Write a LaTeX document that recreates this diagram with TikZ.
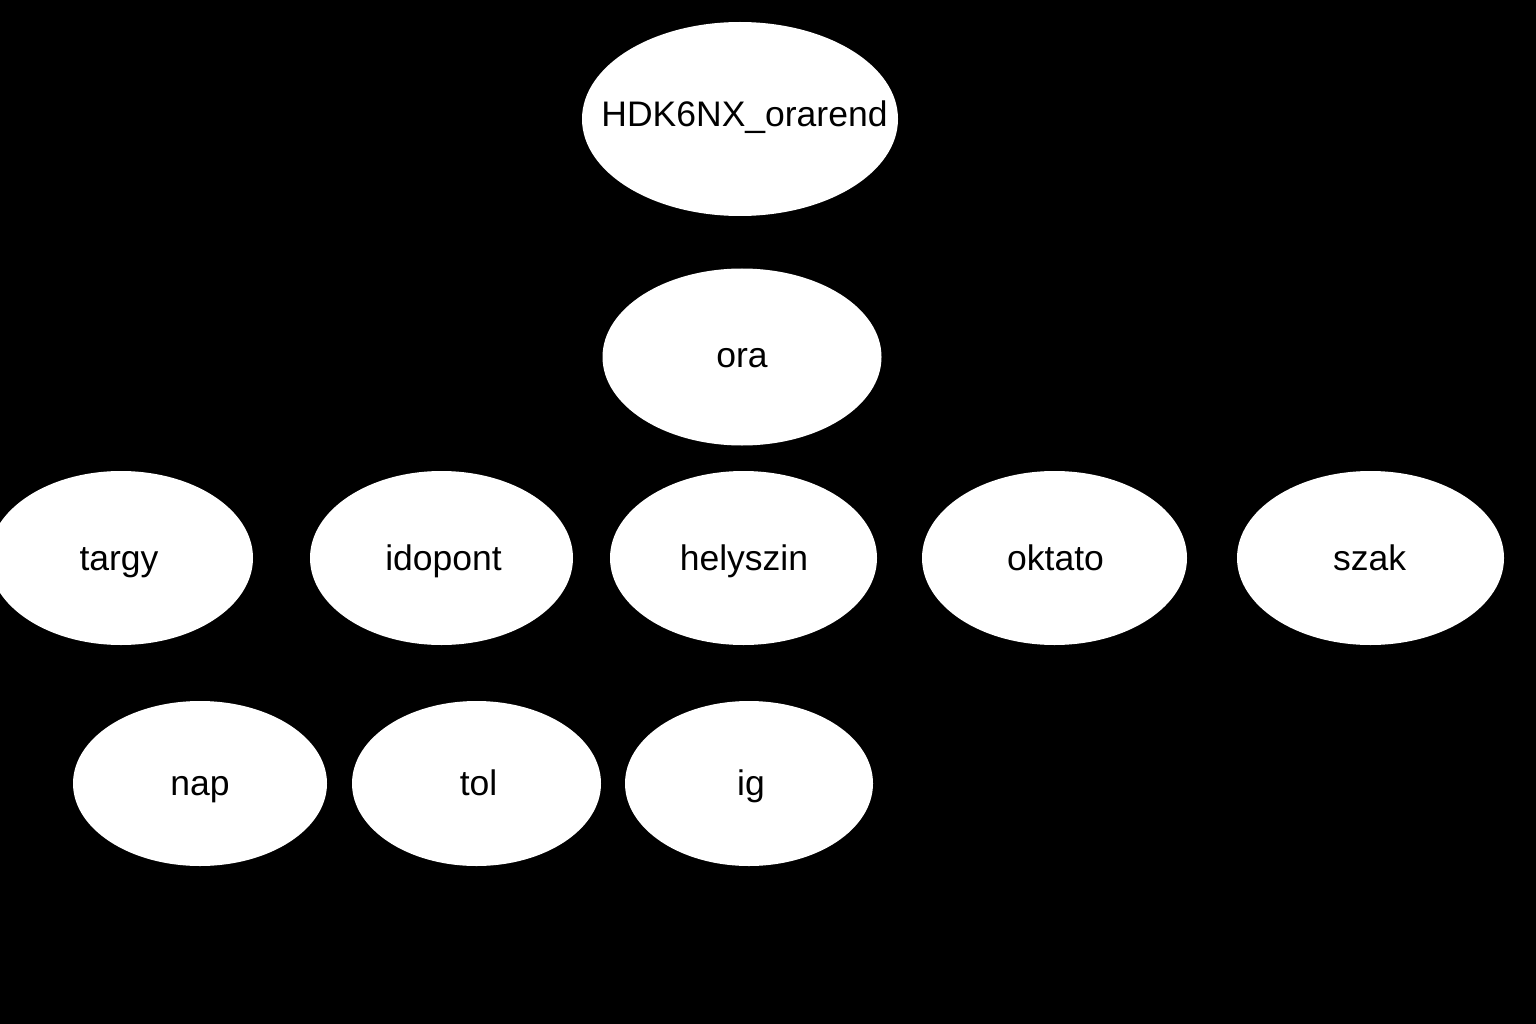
\documentclass[tikz,border=0pt]{standalone}
\usepackage{fontspec}
\setmainfont{Liberation Sans}
\begin{document}
\begin{tikzpicture}[x=1pt,y=-1pt,
  bubble/.style={fill=white},
  lbl/.style={text=black,inner sep=0pt,anchor=base,font=\fontsize{35.5}{42}\selectfont}]
\fill[black] (0,0) rectangle (1536,1024);
\useasboundingbox (0,0) rectangle (1536,1024);
% ellipses
\fill[bubble] (740,119) ellipse [x radius=158, y radius=97];
\fill[bubble] (742,357) ellipse [x radius=139.5, y radius=88.5];
\fill[bubble] (121,558) ellipse [x radius=132, y radius=87];
\fill[bubble] (441.5,558) ellipse [x radius=131.5, y radius=87];
\fill[bubble] (743.5,558) ellipse [x radius=133.5, y radius=87];
\fill[bubble] (1054.5,558) ellipse [x radius=132.5, y radius=87];
\fill[bubble] (1370.5,558) ellipse [x radius=133.5, y radius=87];
\fill[bubble] (200,783.5) ellipse [x radius=127, y radius=82.5];
\fill[bubble] (476.5,783.5) ellipse [x radius=124.5, y radius=82.5];
\fill[bubble] (749,783.5) ellipse [x radius=124, y radius=82.5];
% labels
\node[lbl] (root) at (744.5,127) {HDK6NX\_orarend};
\node[lbl] (ora) at (742,367) {ora};
\node[lbl] (targy) at (119,570) {targy};
\node[lbl] (idopont) at (443.5,570) {idopont};
\node[lbl] (helyszin) at (744,570) {helyszin};
\node[lbl] (oktato) at (1055.5,570) {oktato};
\node[lbl] (szak) at (1369.5,570) {szak};
\node[lbl] (nap) at (200,795) {nap};
\node[lbl] (tol) at (478.5,795) {tol};
\node[lbl] (ig) at (751,795) {ig};
\end{tikzpicture}
\end{document}
